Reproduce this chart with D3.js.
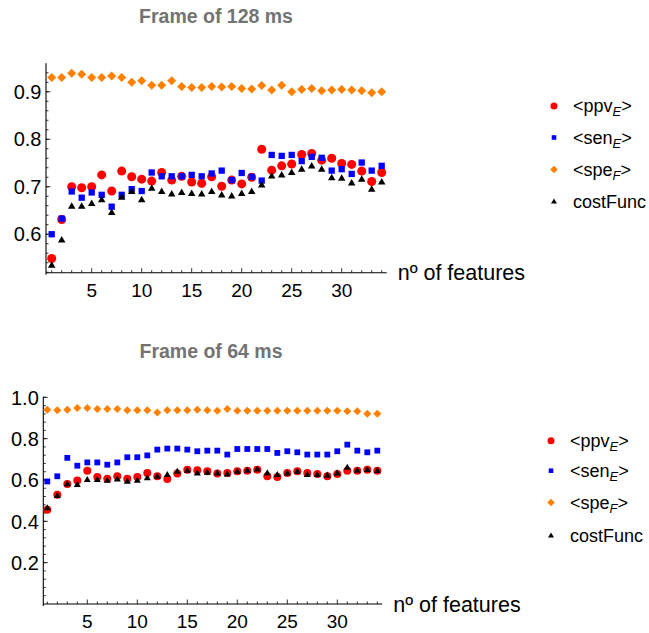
<!DOCTYPE html>
<html>
<head>
<meta charset="utf-8">
<script src="https://cdn.jsdelivr.net/npm/d3@7"></script>
<style>
  body { margin: 0; background: #fff; }
  text { font-family: "Liberation Sans", Arial, sans-serif; }
</style>
</head>
<body>
<svg id="chart" width="649" height="633"></svg>
<script>
// x categories: number of features
const features = [1,2,3,4,5,6,7,8,9,10,11,12,13,14,15,16,17,18,19,20,21,22,23,24,25,26,27,28,29,30,31,32,33,34];

// Frame of 128 ms
const ppv128 = [0.549,0.631,0.700,0.698,0.700,0.725,0.691,0.733,0.721,0.716,0.712,0.730,0.714,0.722,0.710,0.707,0.721,0.701,0.714,0.706,0.720,0.779,0.735,0.744,0.748,0.768,0.770,0.756,0.760,0.749,0.747,0.733,0.711,0.730];
const sen128 = [0.600,0.633,0.690,0.677,0.688,0.683,0.658,0.683,0.695,0.691,0.730,0.722,0.722,0.722,0.725,0.722,0.728,0.734,0.714,0.729,0.721,0.713,0.767,0.765,0.767,0.754,0.763,0.761,0.734,0.737,0.727,0.751,0.734,0.744];
const spe128 = [0.930,0.930,0.939,0.937,0.930,0.930,0.933,0.930,0.920,0.923,0.914,0.914,0.923,0.911,0.909,0.909,0.911,0.910,0.911,0.907,0.906,0.913,0.904,0.914,0.900,0.905,0.907,0.902,0.904,0.905,0.904,0.902,0.898,0.900];
const cost128 = [0.535,0.588,0.659,0.659,0.665,0.673,0.646,0.678,0.690,0.673,0.697,0.690,0.685,0.688,0.686,0.685,0.690,0.683,0.681,0.686,0.690,0.704,0.723,0.725,0.730,0.737,0.744,0.737,0.719,0.718,0.708,0.716,0.695,0.710];

// Frame of 64 ms
const ppv64 = [0.456,0.529,0.581,0.598,0.645,0.615,0.606,0.618,0.606,0.615,0.634,0.618,0.605,0.631,0.650,0.647,0.642,0.632,0.634,0.642,0.645,0.650,0.618,0.615,0.634,0.642,0.634,0.629,0.618,0.629,0.645,0.645,0.650,0.645];
const sen64 = [0.593,0.618,0.707,0.669,0.685,0.685,0.674,0.685,0.710,0.710,0.719,0.747,0.752,0.752,0.747,0.739,0.742,0.742,0.723,0.750,0.750,0.750,0.750,0.731,0.739,0.734,0.723,0.723,0.723,0.739,0.771,0.742,0.734,0.742];
const spe64 = [0.940,0.938,0.940,0.948,0.948,0.943,0.943,0.943,0.938,0.938,0.938,0.927,0.938,0.938,0.938,0.940,0.938,0.935,0.944,0.935,0.935,0.935,0.935,0.935,0.935,0.935,0.935,0.935,0.935,0.935,0.933,0.933,0.921,0.921];
const cost64 = [0.465,0.524,0.581,0.578,0.602,0.602,0.598,0.605,0.594,0.598,0.610,0.618,0.626,0.642,0.647,0.634,0.637,0.634,0.629,0.642,0.647,0.653,0.634,0.626,0.634,0.642,0.626,0.626,0.623,0.634,0.661,0.647,0.650,0.645];

// tick labels
const xTicks = [5, 10, 15, 20, 25, 30];
const yTicks128 = [0.6, 0.7, 0.8, 0.9];
const yTicks64 = [0.2, 0.4, 0.6, 0.8, 1.0];

const seriesNames = ["ppv", "sen", "spe", "costFunc"];

const svg = d3.select('#chart');
const colors = { ppv: "#ff0000", sen: "#0000ff", spe: "#ff8000", costFunc: "#000000" };
const shapes = { ppv: "circle", sen: "square", spe: "diamond", costFunc: "triangle" };

// marker path of given size s (approx width in px)
function markerPath(shape, s) {
  const h = s / 2;
  if (shape === "circle") {
    return d3.symbol(d3.symbolCircle, Math.PI * h * h)();
  } else if (shape === "square") {
    return `M${-h},${-h}H${h}V${h}H${-h}Z`;
  } else if (shape === "diamond") {
    return `M0,${-h}L${h},0L0,${h}L${-h},0Z`;
  } else {
    const th = s * 0.866;
    return `M0,${-th * 0.6}L${h},${th * 0.4}L${-h},${th * 0.4}Z`;
  }
}

function drawPanel(cfg) {
  const g = svg.append('g');
  const x = d3.scaleLinear().domain(cfg.xDomain).range(cfg.xRange);
  const y = d3.scaleLinear().domain(cfg.yDomain).range(cfg.yRange);
  const x0 = cfg.xRange[0], y0 = cfg.yRange[0];

  // title
  g.append('text')
    .attr('x', cfg.titleX).attr('y', cfg.titleY)
    .attr('text-anchor', 'middle')
    .style('font-size', '19.5px').style('font-weight', 'bold').style('fill', '#737373')
    .text(cfg.title);

  // axes lines
  g.append('line').attr('x1', x0).attr('x2', cfg.xRange[1]).attr('y1', y0).attr('y2', y0)
    .attr('stroke', '#000').attr('stroke-width', 1.1);
  g.append('line').attr('x1', x0).attr('x2', x0).attr('y1', y0 + 2).attr('y2', cfg.yRange[1])
    .attr('stroke', '#000').attr('stroke-width', 1.1);

  // x ticks
  features.forEach(f => {
    const major = xTicks.includes(f);
    g.append('line').attr('x1', x(f)).attr('x2', x(f)).attr('y1', y0).attr('y2', y0 - (major ? 4.5 : 2.5))
      .attr('stroke', '#000').attr('stroke-width', 0.8);
  });
  g.selectAll('.xl').data(xTicks).enter().append('text')
    .attr('x', d => x(d)).attr('y', y0 + 24)
    .attr('text-anchor', 'middle').style('font-size', '19px')
    .text(d => d);

  // y ticks
  const yMinor = d3.range(cfg.minorStart, cfg.yDomain[1], cfg.minorStep);
  yMinor.forEach(v => {
    g.append('line').attr('x1', x0).attr('x2', x0 + 2.5).attr('y1', y(v)).attr('y2', y(v))
      .attr('stroke', '#000').attr('stroke-width', 0.8);
  });
  cfg.yTicks.forEach(v => {
    g.append('line').attr('x1', x0).attr('x2', x0 + 4.5).attr('y1', y(v)).attr('y2', y(v))
      .attr('stroke', '#000').attr('stroke-width', 0.8);
  });
  g.selectAll('.yl').data(cfg.yTicks).enter().append('text')
    .attr('x', x0 - 4.5).attr('y', d => y(d)).attr('dy', '0.36em')
    .attr('text-anchor', 'end').style('font-size', '20px')
    .text(d => d3.format('.1f')(d));

  // axis label
  g.append('text')
    .attr('x', cfg.xRange[1] + 11).attr('y', y0 + 7.5)
    .style('font-size', '21.5px')
    .text('nº of features');

  // points
  seriesNames.forEach(name => {
    const vals = cfg.series[name];
    g.selectAll('.p-' + name).data(features).enter().append('path')
      .attr('d', markerPath(shapes[name], cfg.markSize[name]))
      .attr('transform', (f, i) => `translate(${x(f)},${y(vals[i])})`)
      .attr('fill', colors[name]);
  });

  // legend
  const legendLabels = [
    { name: "ppv", base: "ppv", sub: "E" },
    { name: "sen", base: "sen", sub: "E" },
    { name: "spe", base: "spe", sub: "F" },
    { name: "costFunc", base: "costFunc", sub: null }
  ];
  legendLabels.forEach((l, i) => {
    const ly = cfg.legendY[i];
    g.append('path')
      .attr('d', markerPath(shapes[l.name], cfg.legendMark[l.name]))
      .attr('transform', `translate(${cfg.legendX},${ly})`)
      .attr('fill', colors[l.name]);
    const t = g.append('text')
      .attr('x', cfg.legendX + 19).attr('y', ly + 6)
      .style('font-size', '18px');
    if (l.sub) {
      t.append('tspan').text('<' + l.base);
      t.append('tspan').attr('dy', 4).style('font-size', '13px').style('font-style', 'italic').text(l.sub);
      t.append('tspan').attr('dy', -4).text('>');
    } else {
      t.text(l.base);
    }
  });
}

drawPanel({
  title: "Frame of 128 ms", titleX: 216, titleY: 23,
  xDomain: [0.43, 34.5], xRange: [46, 386.7],
  yDomain: [0.519, 0.96], yRange: [272.7, 63.3],
  yTicks: yTicks128, minorStart: 0.52, minorStep: 0.02,
  series: { ppv: ppv128, sen: sen128, spe: spe128, costFunc: cost128 },
  markSize: { ppv: 9, sen: 6.3, spe: 9, costFunc: 7.5 },
  legendX: 554, legendY: [106, 137.5, 169.5, 201.5],
  legendMark: { ppv: 7, sen: 4.6, spe: 7.5, costFunc: 6 }
});

drawPanel({
  title: "Frame of 64 ms", titleX: 211, titleY: 358,
  xDomain: [0.6, 34.5], xRange: [43.3, 382.3],
  yDomain: [0, 1.003], yRange: [604, 396.7],
  yTicks: yTicks64, minorStart: 0.04, minorStep: 0.04,
  series: { ppv: ppv64, sen: sen64, spe: spe64, costFunc: cost64 },
  markSize: { ppv: 8, sen: 5.8, spe: 8, costFunc: 7 },
  legendX: 551, legendY: [440.7, 470.7, 502.5, 535.5],
  legendMark: { ppv: 7, sen: 4.6, spe: 7.5, costFunc: 6 }
});
</script>
</body>
</html>
